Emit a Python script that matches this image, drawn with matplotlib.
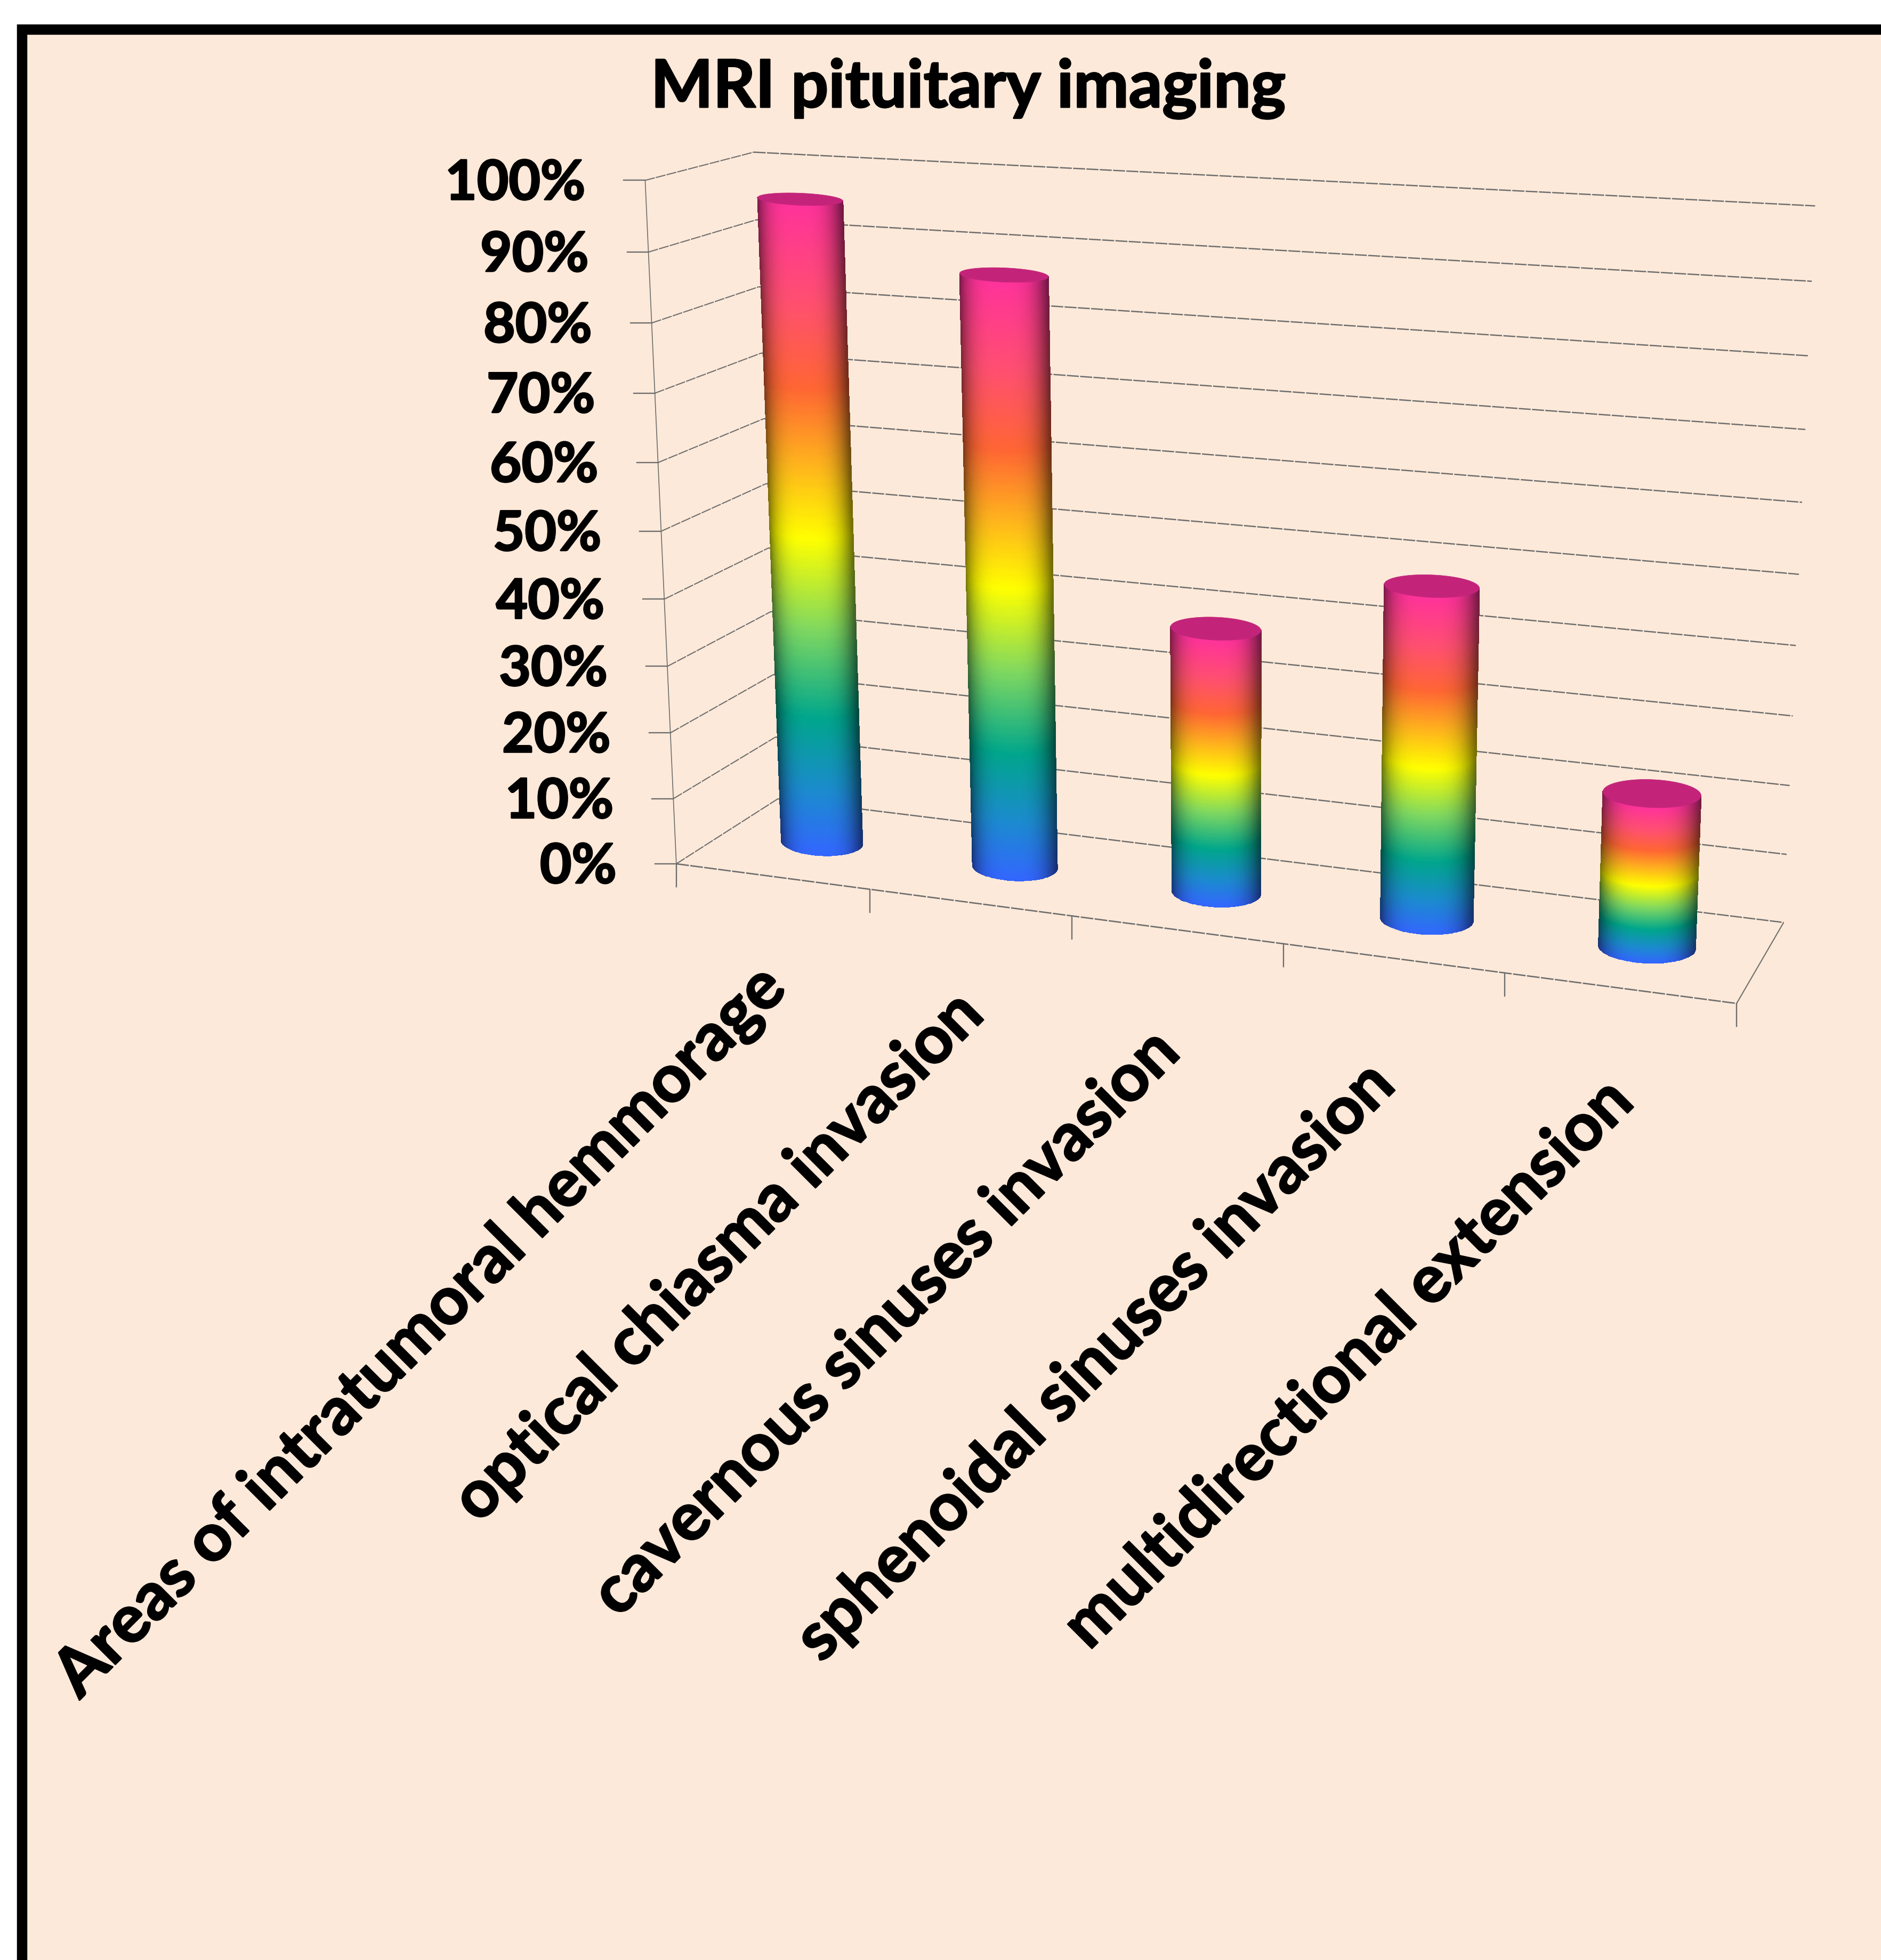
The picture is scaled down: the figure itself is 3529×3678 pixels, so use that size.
import numpy as np
import matplotlib
matplotlib.use('Agg')
import matplotlib.pyplot as plt
import matplotlib.patheffects as pe
from matplotlib.colors import LinearSegmentedColormap
from matplotlib.patches import Polygon, Rectangle

plt.rcParams['font.family'] = ['Lato', 'DejaVu Sans']

TITLE = 'MRI pituitary imaging'
CATEGORIES = ['Areas of intratumoral hemmorage', 'optical chiasma invasion',
              'cavernous sinuses invasion', 'sphenoidal sinuses invasion',
              'multidirectional extension']
VALUES = [96, 87, 39, 48, 22]
Y_TICKS = [0, 10, 20, 30, 40, 50, 60, 70, 80, 90, 100]

W, H = 3529, 3678
BACKGROUND = '#FDE9D9'
GRID_COLOR = '#6E6E6E'
CAP_COLOR = '#C3247A'

# calibration of the chart box: (category, depth, value) fractions -> figure pixels
BOX_3D = np.array([[0, 0, 0], [1, 0, 0], [1, 1, 0], [0, 1, 0], [0, 0, 1], [0, 1, 1], [1, 1, 1],
                   [.2, 0, 0], [.4, 0, 0], [.6, 0, 0], [.8, 0, 0], [0, 0, .3], [0, 0, .6], [0, 0, .9]], float)
BOX_PX = np.array([[1268, 1621], [3259, 1883], [3346, 1731], [1460, 1500], [1211, 339], [1414, 284], [3405, 387],
                   [1631, 1668], [2010, 1718], [2407, 1769], [2824, 1827], [1254, 1251], [1234, 870], [1216, 472]], float)

BAR_RADIUS_U = 0.043
BAR_RADIUS_D = 0.20
BAR_TILT = 0.04

# category labels don't sit at quite the same distance from the axis
LABEL_SHIFT_X = [7, 5, -15, -17, 6]
LABEL_SHIFT_Y = [190, 190, 210, 218, 193]

rainbow = LinearSegmentedColormap.from_list('bar_fill', [
    (0.00, '#3366FF'), (0.10, '#1C8AD0'), (0.22, '#00A68C'), (0.36, '#7FD860'),
    (0.50, '#FFFF00'), (0.62, '#FFB01E'), (0.73, '#FF6633'), (0.86, '#FF4F70'), (1.00, '#FF3399')])

heavy = [pe.withStroke(linewidth=2.2, foreground='black')]


def fit_camera(p3, p2):
    """Direct linear transform, pixel coords scaled down to keep it stable"""
    rows = []
    for (a, b, c), (x, y) in zip(p3, p2):
        x, y = x / 1000, y / 1000
        rows.append([a, b, c, 1, 0, 0, 0, 0, -x * a, -x * b, -x * c, -x])
        rows.append([0, 0, 0, 0, a, b, c, 1, -y * a, -y * b, -y * c, -y])
    return np.linalg.svd(np.array(rows))[2][-1].reshape(3, 4)


CAMERA = fit_camera(BOX_3D, BOX_PX)


def project(u, d, v):
    u, d, v = np.broadcast_arrays(np.asarray(u, float), np.asarray(d, float), np.asarray(v, float))
    pts = np.stack([u, d, v, np.ones_like(u)], axis=-1)
    h = pts @ CAMERA.T
    return h[..., 0] / h[..., 2] * 1000, h[..., 1] / h[..., 2] * 1000


def disc_outline(uc, v, t):
    """Bar cross-section at height v, an ellipse kept level on screen"""
    cx, cy = project(uc, 0.5, v)
    a = (project(uc + BAR_RADIUS_U, 0.5, v)[0] - project(uc - BAR_RADIUS_U, 0.5, v)[0]) / 2
    b = (project(uc, 0.5 - BAR_RADIUS_D, v)[1] - project(uc, 0.5 + BAR_RADIUS_D, v)[1]) / 2
    return cx + a * np.cos(t), cy + BAR_TILT * a * np.cos(t) - b * np.sin(t)


def draw_line(ax, a, b, **kw):
    x, y = project(*np.array([a, b]).T)
    ax.plot(x, y, color=GRID_COLOR, solid_capstyle='butt', **kw)


def draw_bar(ax, uc, value):
    top = value / 100
    t_edges = np.linspace(np.pi, 2 * np.pi, 73)
    s_edges = np.linspace(0, 1, 321)
    tt, ss = np.meshgrid(t_edges, s_edges)
    x, y = disc_outline(uc, top * ss, tt)

    # fill runs bottom to top, side shading darkens only near the silhouette
    t_mid = 0.5 * (t_edges[:-1] + t_edges[1:]) - 1.5 * np.pi
    s_mid = 0.5 * (s_edges[:-1] + s_edges[1:])
    shade = 1 - 0.55 * np.abs(np.sin(t_mid + 0.06)) ** 3.5
    rgb = rainbow(s_mid)[:, :3][:, None, :] * shade[None, :, None]
    ax.pcolormesh(x, y, rgb, shading='flat', edgecolors='face', linewidth=0.3, zorder=3)

    t = np.linspace(0, 2 * np.pi, 121)
    cx, cy = disc_outline(uc, top, t)
    ax.add_patch(Polygon(np.column_stack([cx, cy]), closed=True, fc=CAP_COLOR, ec=CAP_COLOR, lw=0.5, zorder=4))


fig = plt.figure(figsize=(W / 100, H / 100), dpi=100, facecolor='white')
ax = fig.add_axes([0, 0, 1, 1])
ax.set_xlim(0, W)
ax.set_ylim(H, 0)
ax.axis('off')

# panel, its right and bottom edges run off the canvas
ax.add_patch(Rectangle((41, 55), W + 200, H + 200, fc=BACKGROUND, ec='black', lw=14, zorder=0))

ax.text(1816, 166, TITLE, fontsize=89, fontweight='bold', ha='center', va='center', zorder=5,
        path_effects=heavy)

grid_dash = (0, (9, 1))
for tick in Y_TICKS:
    v = tick / 100
    draw_line(ax, (0, 0, v), (0, 1, v), lw=1.5, ls=grid_dash, zorder=1)
    draw_line(ax, (0, 1, v), (1, 1, v), lw=1.8, ls=grid_dash, zorder=1)
    x0, y0 = project(0, 0, v)
    ax.plot([x0 - 40, x0], [y0, y0], color=GRID_COLOR, lw=1.7, zorder=1)
    ax.text(x0 - 112, y0 + 6, '{}%'.format(tick), fontsize=74, fontweight='bold', ha='right', va='center',
            zorder=5, path_effects=heavy)

# floor outline and the front axis
draw_line(ax, (0, 0, 0), (1, 0, 0), lw=1.9, ls=grid_dash, zorder=1)
draw_line(ax, (1, 0, 0), (1, 1, 0), lw=1.5, zorder=1)
draw_line(ax, (0, 0, 0), (0, 0, 1), lw=1.2, zorder=1)

n = len(CATEGORIES)
for i in range(n + 1):
    x0, y0 = project(i / n, 0, 0)
    ax.plot([x0, x0], [y0, y0 + 43], color=GRID_COLOR, lw=1.7, zorder=1)

for i, (name, value) in enumerate(zip(CATEGORIES, VALUES)):
    uc = (i + 0.5) / n
    draw_bar(ax, uc, value)
    x0, y0 = project(uc, 0, 0)
    ax.text(x0 + LABEL_SHIFT_X[i], y0 + LABEL_SHIFT_Y[i], name, fontsize=90, fontweight='bold', rotation=45,
            rotation_mode='anchor', ha='right', va='center', zorder=5, path_effects=heavy)

fig.savefig('out.png', dpi=100, facecolor='white')
